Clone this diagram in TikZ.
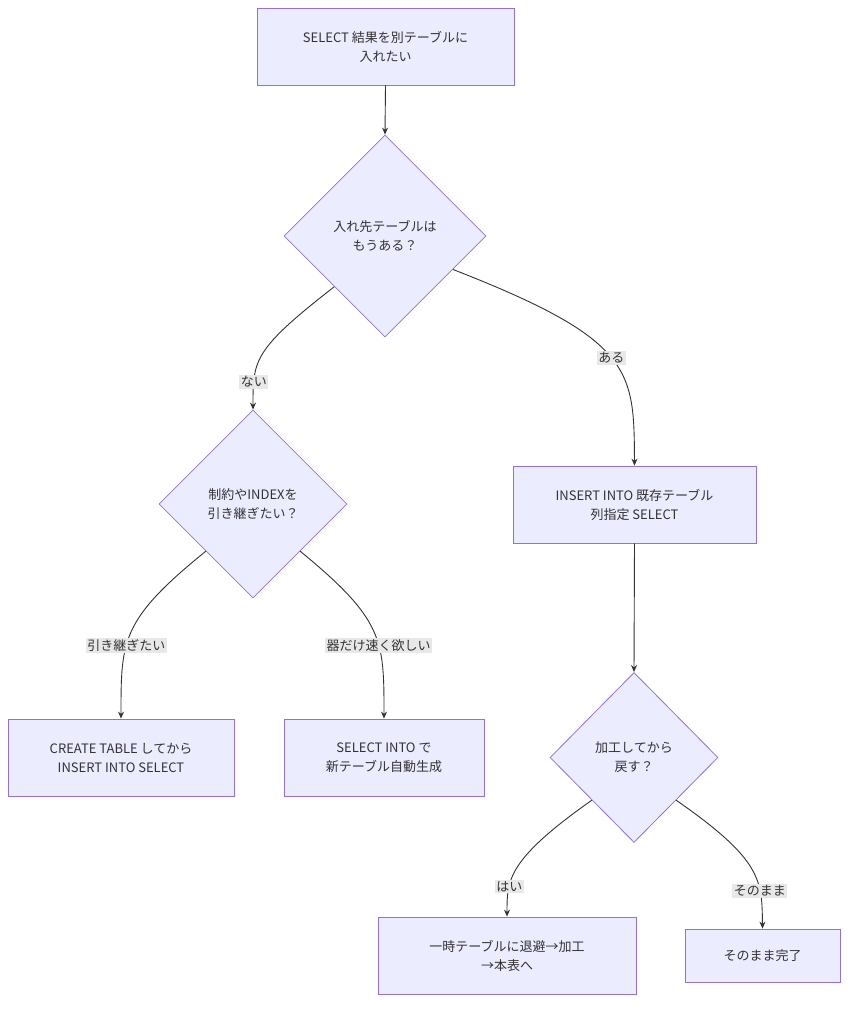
\documentclass[tikz,border=0pt]{standalone}
\usepackage{fontspec}
\setmainfont{Noto Sans CJK JP}
\usetikzlibrary{shapes.geometric,arrows.meta,calc}
\definecolor{nf}{HTML}{ECECFF}
\definecolor{ns}{HTML}{9370DB}
\definecolor{tx}{HTML}{333333}
\definecolor{lb}{HTML}{E8E8E8}
\begin{document}
\begin{tikzpicture}[x=1pt,y=-1pt,
  every node/.style={font=\fontsize{13}{19}\selectfont,text=tx,align=center},
  box/.style={draw=ns,fill=nf,line width=0.8pt,inner sep=0,rectangle},
  dia/.style={draw=ns,fill=nf,line width=0.8pt,diamond,inner sep=0},
  arr/.style={draw=tx,line width=0.9pt,-{Stealth[length=7pt,width=6pt]}},
  lab/.style={fill=lb,inner sep=1.5pt}]
\useasboundingbox (0,0) rectangle (856,1012);
\node[box,minimum width=257,minimum height=77] (a) at (385.5,46.5) {SELECT 結果を別テーブルに\\入れたい};
\node[dia,minimum width=202,minimum height=202] (d1) at (385,236) {入れ先テーブルは\\もうある？};
\node[dia,minimum width=188,minimum height=188] (d2) at (253,504) {制約やINDEXを\\引き継ぎたい？};
\node[box,minimum width=243,minimum height=77] (b) at (634.5,504.5) {INSERT INTO 既存テーブル\\列指定 SELECT};
\node[box,minimum width=226,minimum height=77] (c) at (121,757.5) {CREATE TABLE してから\\INSERT INTO SELECT};
\node[box,minimum width=200,minimum height=77] (e) at (384,757.5) {SELECT INTO で\\新テーブル自動生成};
\node[dia,minimum width=168,minimum height=170] (d3) at (634,757.5) {加工してから\\戻す？};
\node[box,minimum width=258,minimum height=77] (f) at (507,955.5) {一時テーブルに退避→加工\\→本表へ};
\node[box,minimum width=155,minimum height=53] (g) at (762.5,955.5) {そのまま完了};
\draw[arr] (a.south) -- (d1.north);
\draw[arr] (b.south) -- (d3.north);
\draw[arr] (d1.south west) .. controls (253,350) and (253,360) .. node[lab,pos=0.78]{ない} (d2.north);
\draw[arr] ($(d1.east)!0.33!(d1.south)$) .. controls (634,340) and (634,370) .. node[lab,pos=0.5]{ある} (b.north);
\draw[arr] (d2.south west) .. controls (121,620) and (121,640) .. node[lab,pos=0.6]{引き継ぎたい} (c.north);
\draw[arr] (d2.south east) .. controls (384,620) and (384,640) .. node[lab,pos=0.6]{器だけ速く欲しい} (e.north);
\draw[arr] (d3.south west) .. controls (507,860) and (507,880) .. node[lab,pos=0.7]{はい} (f.north);
\draw[arr] (d3.south east) .. controls (762,860) and (762,880) .. node[lab,pos=0.7]{そのまま} (g.north);
\end{tikzpicture}
\end{document}
